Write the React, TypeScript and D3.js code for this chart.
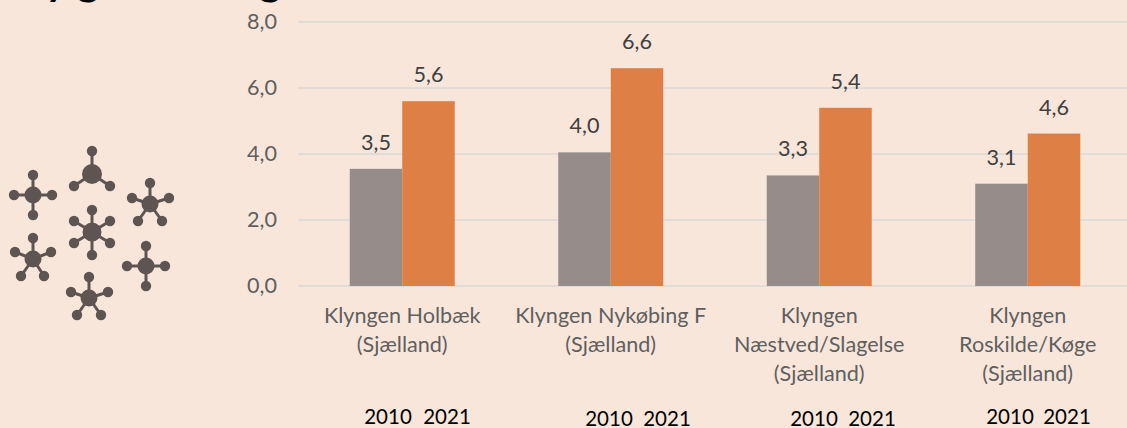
import * as d3 from "d3";

const clusters = [
  ["Klyngen Holbæk", "(Sjælland)"],
  ["Klyngen Nykøbing F", "(Sjælland)"],
  ["Klyngen", "Næstved/Slagelse", "(Sjælland)"],
  ["Klyngen", "Roskilde/Køge", "(Sjælland)"],
];
const values2010 = [3.55, 4.05, 3.35, 3.1];
const values2021 = [5.6, 6.6, 5.4, 4.62];
const labels2010 = ["3,5", "4,0", "3,3", "3,1"];
const labels2021 = ["5,6", "6,6", "5,4", "4,6"];
const yTicks = [0, 2, 4, 6, 8];

// the text boxes under the chart are placed by hand in the original too
const yearLabels = [
  { x2010: 388, x2021: 447, y: 424 },
  { x2010: 609, x2021: 667, y: 426 },
  { x2010: 814, x2021: 872, y: 426 },
  { x2010: 1010, x2021: 1067, y: 424 },
];

// molecule icon: hub + arms, each arm is [dx, dy] to its outer dot
const molecules = [
  { x: 33, y: 195, r: 8.5, arms: [[0, -20], [19, 0], [0, 20], [-19, 0]] },
  { x: 92, y: 174, r: 10, arms: [[0, -23], [-18, 12], [18, 12]] },
  { x: 150, y: 204, r: 8.5, arms: [[0, -21], [-18, -6], [19, -6], [-12, 17], [12, 17]] },
  { x: 92, y: 232, r: 9.5, arms: [[0, -22], [0, 23], [-18, -11], [18, -11], [-18, 11], [18, 11]] },
  { x: 33, y: 259, r: 8.5, arms: [[0, -21], [-18, -7], [18, -7], [-12, 17], [11, 17]] },
  { x: 146, y: 266, r: 8.5, arms: [[0, -20], [19, 0], [0, 20], [-19, 0]] },
  { x: 89, y: 298, r: 8.5, arms: [[0, -21], [-18, -6], [19, -6], [-12, 17], [12, 17]] },
];

const width = 1127;
const height = 428;
const font = "Lato, 'Open Sans', sans-serif";
const labelSize = 21.6;

export default function App() {
  const x = d3.scaleBand<number>().domain(d3.range(clusters.length)).range([298, 1132]);
  const y = d3.scaleLinear().domain([0, 8]).range([286, 22]);
  const barW = 52.5;

  return (
    <svg
      width={width}
      height={height}
      style={{ position: "absolute", left: 0, top: 0, background: "#F8E6DB" }}
      fontFamily={font}
    >
      {/* title runs off the top of the crop, only the descenders are visible */}
      <text y={-5} fontSize={42} fontWeight={700} fill="#000">
        <tspan x={6}>Kly</tspan>
        <tspan x={77}>g</tspan>
        <tspan x={259}>g</tspan>
      </text>

      {yTicks.map((t) => (
        <g key={t}>
          <line x1={298} x2={width} y1={y(t)} y2={y(t)} stroke="#E2DCD8" strokeWidth={2} />
          <text x={277} y={y(t) + 7} textAnchor="end" fontSize={labelSize} fill="#5F5F5F">
            {d3.format(".1f")(t).replace(".", ",")}
          </text>
        </g>
      ))}

      {clusters.map((lines, i) => {
        const cx = x(i)! + x.bandwidth() / 2;
        return (
          <g key={i}>
            <rect x={cx - barW} y={y(values2010[i])} width={barW} height={y(0) - y(values2010[i])} fill="#968C8A" />
            <rect x={cx} y={y(values2021[i])} width={barW} height={y(0) - y(values2021[i])} fill="#DE8046" />
            <text x={cx - barW / 2} y={y(values2010[i]) - 19} textAnchor="middle" fontSize={labelSize} fill="#404040">
              {labels2010[i]}
            </text>
            <text x={cx + barW / 2} y={y(values2021[i]) - 19} textAnchor="middle" fontSize={labelSize} fill="#404040">
              {labels2021[i]}
            </text>
            {lines.map((line, j) => (
              <text key={j} x={cx} y={323 + j * 29} textAnchor="middle" fontSize={labelSize} fill="#5F5F5F">
                {line}
              </text>
            ))}
            <text x={yearLabels[i].x2010} y={yearLabels[i].y} textAnchor="middle" fontSize={20.5} fill="#000">
              2010
            </text>
            <text x={yearLabels[i].x2021} y={yearLabels[i].y} textAnchor="middle" fontSize={20.5} fill="#000">
              2021
            </text>
          </g>
        );
      })}

      {molecules.map((m, i) => (
        <g key={i} transform={`translate(${m.x},${m.y})`} fill="#5E5452" stroke="#5E5452">
          {m.arms.map(([dx, dy], j) => (
            <g key={j}>
              <line x2={dx} y2={dy} strokeWidth={3} />
              <circle cx={dx} cy={dy} r={5.2} stroke="none" />
            </g>
          ))}
          <circle r={m.r} stroke="none" />
        </g>
      ))}
    </svg>
  );
}
